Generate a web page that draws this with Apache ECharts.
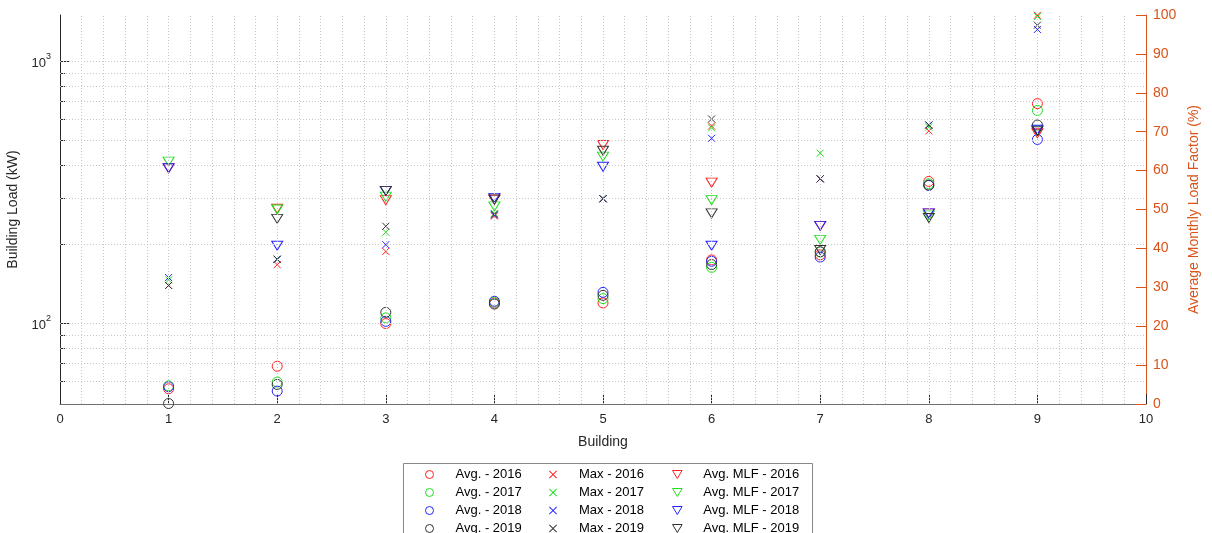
<!DOCTYPE html>
<html>
<head>
<meta charset="utf-8">
<script src="https://cdn.jsdelivr.net/npm/echarts@6/dist/echarts.min.js"></script>
<style>
html,body{margin:0;padding:0;background:#fff;}
#chart{width:1212px;height:533px;}
</style>
</head>
<body>
<div id="chart"></div>
<script>
// ---- data ----
const buildings = [1, 2, 3, 4, 5, 6, 7, 8, 9];
const years = ['2016', '2017', '2018', '2019'];

// Average building load (kW), left log axis
const avg2016 = [56, 68.3, 99.4, 119, 119.2, 174, 182, 347, 688];
const avg2017 = [57.5, 59.4, 104.5, 120, 123.8, 163, 186.5, 340, 648];
const avg2018 = [57, 54.9, 101.4, 121, 130.8, 172, 178.4, 335, 502];
const avg2019 = [49.2, 58.2, 109.7, 118, 127.4, 167, 187, 336, 570];

// Maximum building load (kW), left log axis
const max2016 = [139, 166.8, 187.5, 256, 298, 565, 355, 541, 1497];
const max2017 = [146, 175, 222, 262, 298, 556, 445, 560, 1480];
const max2018 = [149, 175, 199, 258, 298, 507, 355, 570, 1321];
const max2019 = [139, 175, 234, 260, 298, 601, 355, 570, 1371];

// Average monthly load factor (%), right axis
const mlf2016 = [60.6, 50.2, 52.4, 52.5, 66.6, 56.9, 45.8, 49.0, 69.6];
const mlf2017 = [62.3, 50.0, 53.3, 50.8, 63.6, 52.4, 42.2, 48.5, 70.4];
const mlf2018 = [60.6, 40.7, 54.8, 53.0, 61.0, 40.7, 45.8, 49.0, 70.5];
const mlf2019 = [null, 47.6, 54.8, 52.6, 65.1, 49.0, 39.6, 47.8, 70.1];

// axis ticks
const leftMajorTicks = [100, 1000];
const leftMinorTicks = [60, 70, 80, 90, 200, 300, 400, 500, 600, 700, 800, 900];
const xMinorGrid = [];
for (let i = 1; i < 50; i++) xMinorGrid.push(+(i * 0.2).toFixed(1));

// ---- styling ----
const colors = ['#ff1f1f', '#1fe01f', '#2424ff', '#333333'];
const rightColor = '#D95319';
const axisColor = '#262626';
const font = 'Liberation Sans, Arial, Helvetica, sans-serif';

const SYM_CIRCLE = 'circle';
const SYM_X = 'path://M0,0L10,10M10,0L0,10';
const SYM_X_FILLED = 'path://M0,0.8L0.8,0L5,4.2L9.2,0L10,0.8L5.8,5L10,9.2L9.2,10L5,5.8L0.8,10L0,9.2L4.2,5Z';
const SYM_TRI = 'path://M0,0L12,0L6,10Z';

function pts(arr) { return arr.map((v, i) => [buildings[i], v]); }

const avgData = [avg2016, avg2017, avg2018, avg2019];
const maxData = [max2016, max2017, max2018, max2019];
const mlfData = [mlf2016, mlf2017, mlf2018, mlf2019];

const series = [];
// grid lines drawn through the axes scales
series.push({
  type: 'scatter', xAxisIndex: 0, yAxisIndex: 0, data: [], silent: true, z: 0,
  markLine: {
    silent: true, symbol: ['none', 'none'], label: {show: false}, animation: false,
    lineStyle: {type: [1, 2], color: '#c8c8c8', width: 1},
    emphasis: {disabled: true},
    data: leftMajorTicks.concat(leftMinorTicks).map(v => ({yAxis: v}))
      .concat(xMinorGrid.map(v => ({xAxis: v})))
  }
});

function mk(name, data, symbol, size, color, yIdx) {
  return {
    name: name, type: 'scatter', xAxisIndex: 0, yAxisIndex: yIdx,
    data: pts(data), symbol: symbol, symbolSize: size, silent: true, z: 3,
    itemStyle: {color: 'transparent', borderColor: color, borderWidth: 1, opacity: 1},
    emphasis: {disabled: true}
  };
}
const avgNames = years.map(y => 'Avg. - ' + y);
const maxNames = years.map(y => 'Max - ' + y);
const mlfNames = years.map(y => 'Avg. MLF - ' + y);
years.forEach((y, k) => series.push(mk(avgNames[k], avgData[k], SYM_CIRCLE, 10, colors[k], 0)));
years.forEach((y, k) => series.push(mk(maxNames[k], maxData[k], SYM_X, 7, colors[k], 0)));
years.forEach((y, k) => series.push(mk(mlfNames[k], mlfData[k], SYM_TRI, [11, 9], colors[k], 1)));

function legendCol(names, left, icon, filled) {
  return {
    data: names.map((n, k) => ({
      name: n, icon: icon,
      itemStyle: filled
        ? {color: colors[k], borderWidth: 0, borderColor: 'transparent'}
        : {color: 'transparent', borderColor: colors[k], borderWidth: 1}
    })),
    orient: 'vertical', left: left, top: 462, height: 120,
    itemWidth: 42, itemHeight: 8, itemGap: 3, selectedMode: false,
    textStyle: {fontSize: 13, color: '#000', fontFamily: font, lineHeight: 15, padding: 0}
  };
}

const option = {
  animation: false,
  backgroundColor: '#fff',
  textStyle: {fontFamily: font},
  grid: {left: 60, right: 66, top: 15, bottom: 129, containLabel: false, outerBoundsMode: 'none'},
  graphic: [{
    type: 'rect', left: 403, top: 463, z: -1,
    shape: {width: 409, height: 80},
    style: {fill: '#fff', stroke: '#8a8a8a', lineWidth: 1}
  }],
  legend: [
    legendCol(avgNames, 420, SYM_CIRCLE, false),
    legendCol(maxNames, 544, SYM_X_FILLED, true),
    legendCol(mlfNames, 667, SYM_TRI, false)
  ],
  xAxis: [{
    type: 'value', min: 0, max: 10, interval: 1,
    axisLine: {show: true, onZero: false, lineStyle: {color: '#707070', width: 1}},
    axisTick: {show: true, inside: true, length: 10, lineStyle: {color: axisColor}},
    axisLabel: {color: axisColor, fontSize: 13, margin: 9, fontFamily: font},
    splitLine: {show: false},
    name: 'Building', nameLocation: 'middle', nameGap: 31,
    nameTextStyle: {color: axisColor, fontSize: 14, fontFamily: font}
  }],
  yAxis: [{
    type: 'log', logBase: 10, min: 49, max: 1500, position: 'left',
    axisLine: {show: true, lineStyle: {color: axisColor, width: 1}},
    axisTick: {show: true, inside: true, length: 10, customValues: leftMajorTicks, lineStyle: {color: axisColor}},
    axisLabel: {
      customValues: leftMajorTicks, margin: 9,
      formatter: function (v) { return '{b|10}{s|' + Math.round(Math.log10(v)) + '}'; },
      rich: {
        b: {fontSize: 13, color: axisColor, verticalAlign: 'bottom', lineHeight: 18, fontFamily: font},
        s: {fontSize: 9, color: axisColor, verticalAlign: 'top', lineHeight: 18, fontFamily: font}
      }
    },
    splitLine: {show: false},
    name: 'Building Load (kW)', nameLocation: 'middle', nameGap: 29, nameRotate: 90,
    nameTextStyle: {color: axisColor, fontSize: 14, fontFamily: font}
  }, {
    type: 'value', min: 0, max: 100, interval: 10, position: 'right',
    axisLine: {show: true, lineStyle: {color: rightColor, width: 1}},
    axisTick: {show: true, inside: true, length: 10, lineStyle: {color: rightColor}},
    axisLabel: {color: rightColor, fontSize: 14, margin: 7, fontFamily: font},
    splitLine: {show: false},
    name: 'Average Monthly Load Factor (%)', nameLocation: 'middle', nameGap: 40, nameRotate: 90,
    nameTextStyle: {color: rightColor, fontSize: 14, fontFamily: font}
  }, {
    type: 'log', logBase: 10, min: 49, max: 1500, position: 'left',
    axisLine: {show: false},
    axisTick: {show: true, inside: true, length: 5, customValues: leftMinorTicks, lineStyle: {color: axisColor}},
    axisLabel: {show: false},
    splitLine: {show: false}
  }],
  series: series
};

const chart = echarts.init(document.getElementById('chart'), null, {renderer: 'canvas'});
chart.setOption(option);
</script>
</body>
</html>
